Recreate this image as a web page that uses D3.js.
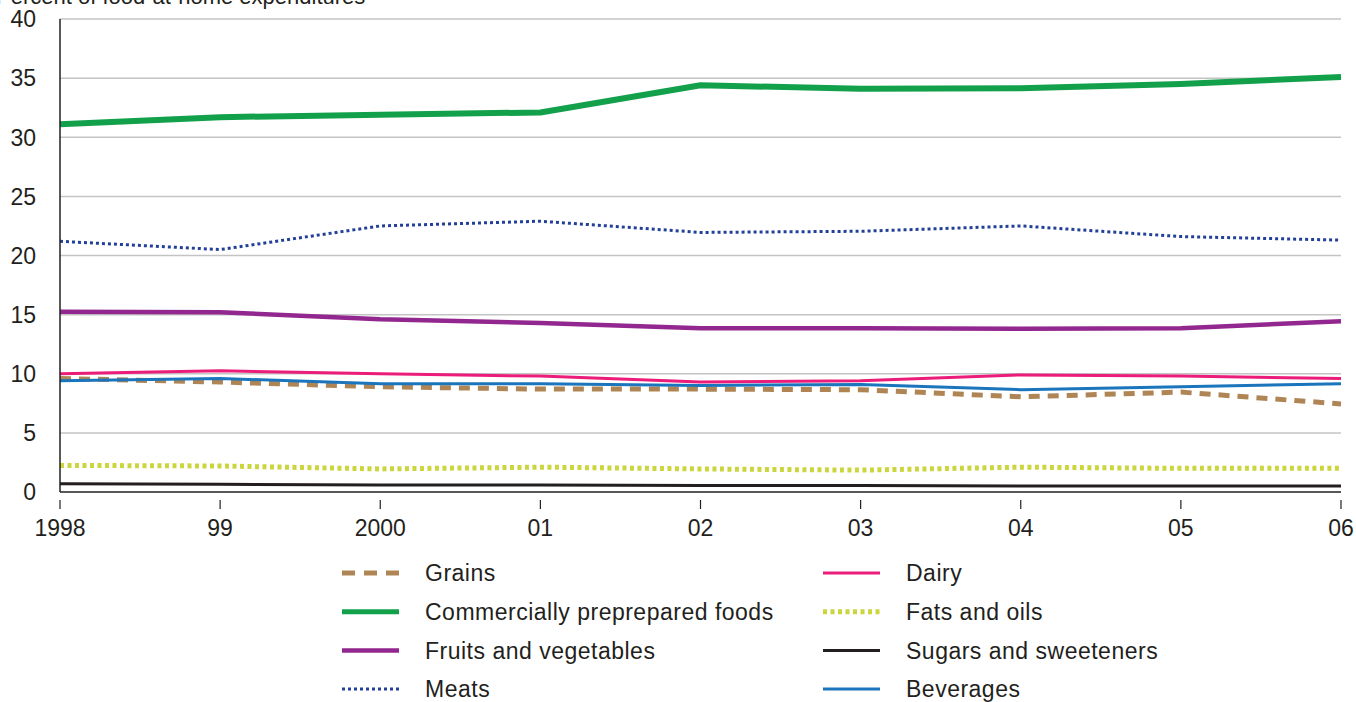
<!DOCTYPE html>
<html>
<head>
<meta charset="utf-8">
<script src="https://cdn.jsdelivr.net/npm/d3@7"></script>
<style>
  body { margin: 0; background: #fff; }
  svg { display: block; font-family: "Liberation Sans", Arial, Helvetica, sans-serif; }
</style>
</head>
<body>
<svg id="chart" width="1356" height="702"></svg>
<script>
"use strict";

// years on the x axis
var years = [1998, 1999, 2000, 2001, 2002, 2003, 2004, 2005, 2006];
var yearLabels = ["1998", "99", "2000", "01", "02", "03", "04", "05", "06"];
var yTicks = [0, 5, 10, 15, 20, 25, 30, 35, 40];

// percent of food-at-home expenditures
var grains      = [9.6, 9.3, 8.9, 8.7, 8.7, 8.65, 8.05, 8.45, 7.45];
var commercial  = [31.1, 31.7, 31.9, 32.1, 34.4, 34.1, 34.15, 34.5, 35.1];
var fruitsVeg   = [15.25, 15.2, 14.6, 14.3, 13.85, 13.85, 13.8, 13.85, 14.45];
var meats       = [21.2, 20.5, 22.5, 22.9, 21.95, 22.05, 22.5, 21.6, 21.3];
var dairy       = [10.0, 10.25, 10.0, 9.8, 9.3, 9.4, 9.9, 9.8, 9.6];
var fatsOils    = [2.25, 2.2, 1.95, 2.1, 1.95, 1.85, 2.1, 2.0, 2.0];
var sugars      = [0.7, 0.65, 0.6, 0.6, 0.55, 0.55, 0.5, 0.5, 0.5];
var beverages   = [9.4, 9.6, 9.15, 9.15, 9.0, 9.1, 8.65, 8.9, 9.15];

var seriesNames = ["Grains", "Commercially preprepared foods", "Fruits and vegetables", "Meats",
                   "Dairy", "Fats and oils", "Sugars and sweeteners", "Beverages"];
var seriesValues = [grains, commercial, fruitsVeg, meats, dairy, fatsOils, sugars, beverages];

// look of each series
var styles = {
	"Grains":                         { color: "#b08556", width: 5,   dash: "11,8" },
	"Commercially preprepared foods": { color: "#13a04b", width: 6,   dash: null },
	"Fruits and vegetables":          { color: "#92278f", width: 4.5, dash: null },
	"Meats":                          { color: "#22409a", width: 3,   dash: "3,3" },
	"Dairy":                          { color: "#ec1c7a", width: 3,   dash: null },
	"Fats and oils":                  { color: "#cdd53c", width: 5,   dash: "4,3.5" },
	"Sugars and sweeteners":          { color: "#231f20", width: 3,   dash: null },
	"Beverages":                      { color: "#1b75bc", width: 3,   dash: null }
};
var drawOrder = ["Grains", "Fats and oils", "Sugars and sweeteners", "Meats",
                 "Fruits and vegetables", "Commercially preprepared foods", "Beverages", "Dairy"];

var svg = d3.select("#chart");

var x = d3.scaleLinear().domain([1998, 2006]).range([60, 1341]);
var y = d3.scaleLinear().domain([0, 40]).range([492, 19]);

// title, cut off by the top edge as in the original
svg.append("text")
	.attr("x", -4)
	.attr("y", 4)
	.attr("font-size", 22)
	.attr("fill", "#231f20")
	.text("Percent of food-at-home expenditures");

// gridlines
svg.append("g")
	.selectAll("line")
	.data(yTicks.filter(function(d){ return d > 0; }))
	.join("line")
	.attr("x1", x(1998))
	.attr("x2", x(2006))
	.attr("y1", function(d){ return y(d); })
	.attr("y2", function(d){ return y(d); })
	.attr("stroke", "#c4c4c4")
	.attr("stroke-width", 1.5);

// y labels
svg.append("g")
	.selectAll("text")
	.data(yTicks)
	.join("text")
	.attr("x", 36)
	.attr("y", function(d){ return y(d); })
	.attr("dy", "0.36em")
	.attr("text-anchor", "end")
	.attr("font-size", 23)
	.attr("fill", "#231f20")
	.text(function(d){ return d; });

// x axis ticks and labels
var xAxis = svg.append("g");
xAxis.selectAll("line")
	.data(years)
	.join("line")
	.attr("x1", function(d){ return x(d); })
	.attr("x2", function(d){ return x(d); })
	.attr("y1", 500)
	.attr("y2", 509)
	.attr("stroke", "#231f20")
	.attr("stroke-width", 1.2);
xAxis.selectAll("text")
	.data(years)
	.join("text")
	.attr("x", function(d){ return x(d); })
	.attr("y", 536)
	.attr("text-anchor", "middle")
	.attr("font-size", 23)
	.attr("fill", "#231f20")
	.text(function(d, i){ return yearLabels[i]; });

// series lines
var line = d3.line()
	.x(function(d, i){ return x(years[i]); })
	.y(function(d){ return y(d); });

svg.append("g")
	.selectAll("path")
	.data(drawOrder)
	.join("path")
	.attr("d", function(name){ return line(seriesValues[seriesNames.indexOf(name)]); })
	.attr("fill", "none")
	.attr("stroke", function(name){ return styles[name].color; })
	.attr("stroke-width", function(name){ return styles[name].width; })
	.attr("stroke-linejoin", "round")
	.attr("stroke-dasharray", function(name){ return styles[name].dash; });

// axis lines on top
svg.append("line")
	.attr("x1", x(1998)).attr("x2", x(2006))
	.attr("y1", y(0)).attr("y2", y(0))
	.attr("stroke", "#231f20").attr("stroke-width", 1.5);
svg.append("line")
	.attr("x1", x(1998)).attr("x2", x(1998))
	.attr("y1", y(40)).attr("y2", y(0))
	.attr("stroke", "#231f20").attr("stroke-width", 1.5);

// legend, two columns of four
var legend = svg.append("g")
	.selectAll("g")
	.data(seriesNames)
	.join("g")
	.attr("transform", function(d, i){
		var col = Math.floor(i / 4), row = i % 4;
		return "translate(" + (342 + col * 481) + "," + (573 + row * 38.7) + ")";
	});
legend.append("line")
	.attr("x1", 0).attr("x2", 57)
	.attr("stroke", function(d){ return styles[d].color; })
	.attr("stroke-width", function(d){ return Math.min(styles[d].width, 5); })
	.attr("stroke-dasharray", function(d){
		return d === "Grains" ? "13,9" : styles[d].dash;
	});
legend.append("text")
	.attr("x", 83)
	.attr("dy", "0.36em")
	.attr("font-size", 23)
	.attr("letter-spacing", 0.5)
	.attr("fill", "#231f20")
	.text(function(d){ return d; });
</script>
</body>
</html>
